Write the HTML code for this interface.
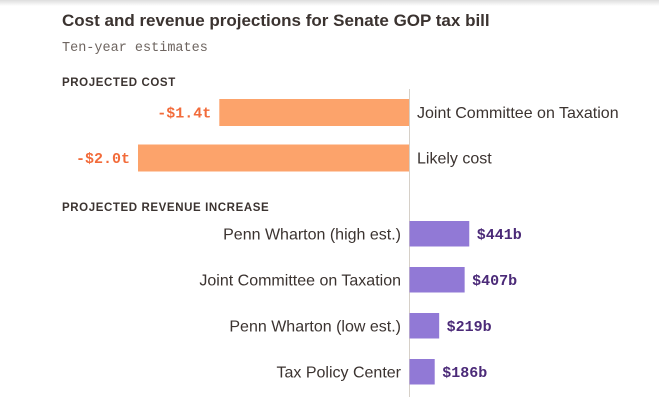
<!DOCTYPE html>
<html><head><meta charset="utf-8"><style>
html,body{margin:0;padding:0;background:#fff;width:659px;height:410px;overflow:hidden}
svg{display:block}
.sans{font-family:"Liberation Sans",sans-serif}
.mono{font-family:"Liberation Mono",monospace}
</style></head><body>
<svg id="chart" width="659" height="410" xmlns="http://www.w3.org/2000/svg">
<defs><linearGradient id="sh" x1="0" y1="0" x2="0" y2="1"><stop offset="0" stop-color="#ddd"/><stop offset="1" stop-color="#fff"/></linearGradient></defs>
<rect x="0" y="0" width="659" height="6" fill="url(#sh)"/>
<text x="62" y="26" class="sans" font-size="17" font-weight="bold" fill="#3b3330">Cost and revenue projections for Senate GOP tax bill</text>
<text x="62" y="51" class="mono" font-size="13.5" fill="#6e6560">Ten-year estimates</text>
<text x="62" y="86" class="sans" font-size="11.5" font-weight="bold" fill="#3b3330" letter-spacing="0.6">PROJECTED COST</text>
<text x="62" y="211" class="sans" font-size="11.5" font-weight="bold" fill="#3b3330" letter-spacing="0.6">PROJECTED REVENUE INCREASE</text>
<line x1="409.5" y1="89" x2="409.5" y2="397" stroke="#d6d0c8" stroke-width="1"/>
<g id="marks"></g>
</svg>
<script>
const costLabels = ["Joint Committee on Taxation", "Likely cost"];
const costValues = [-1.4, -2.0];
const costPrinted = ["-$1.4t", "-$2.0t"];
const revLabels = ["Penn Wharton (high est.)", "Joint Committee on Taxation", "Penn Wharton (low est.)", "Tax Policy Center"];
const revValues = [0.441, 0.407, 0.219, 0.186];
const revPrinted = ["$441b", "$407b", "$219b", "$186b"];

const x0 = 409, pxPerT = 135.5;
function xs(v){ return x0 + v*pxPerT; }
const g = document.getElementById('marks');
const NS = "http://www.w3.org/2000/svg";
function mk(tag, attrs, txt){
  const e = document.createElementNS(NS, tag);
  for (const k in attrs) e.setAttribute(k, attrs[k]);
  if (txt !== undefined) e.textContent = txt;
  g.appendChild(e); return e;
}
costValues.forEach((v,i)=>{
  const y = 99 + i*45.5, h = 27;
  const r = mk('rect',{x:xs(v),y:y,width:x0-xs(v),height:h,fill:'#fca36b'});
  
  
  const t = mk('text',{x:xs(v)-8,y:y+h/2+5,'text-anchor':'end',class:'mono','font-size':'15','font-weight':'bold',fill:'#f26b3a'},costPrinted[i]);
  
  
  const l = mk('text',{x:x0+8,y:y+h/2+5.5,class:'sans','font-size':'16',fill:'#3b3330'},costLabels[i]);
  
  
});
revValues.forEach((v,i)=>{
  const y = 221 + i*46, h = 25.5;
  const r = mk('rect',{x:x0+0.5,y:y,width:xs(v)-x0,height:h,fill:'#9179d6'});
  
  
  const t = mk('text',{x:xs(v)+8,y:y+h/2+5,class:'mono','font-size':'15','font-weight':'bold',fill:'#4b2a78'},revPrinted[i]);
  
  
  const l = mk('text',{x:x0-8,y:y+h/2+5.5,'text-anchor':'end',class:'sans','font-size':'16',fill:'#3b3330'},revLabels[i]);
  
  
});
</script>
</body></html>
